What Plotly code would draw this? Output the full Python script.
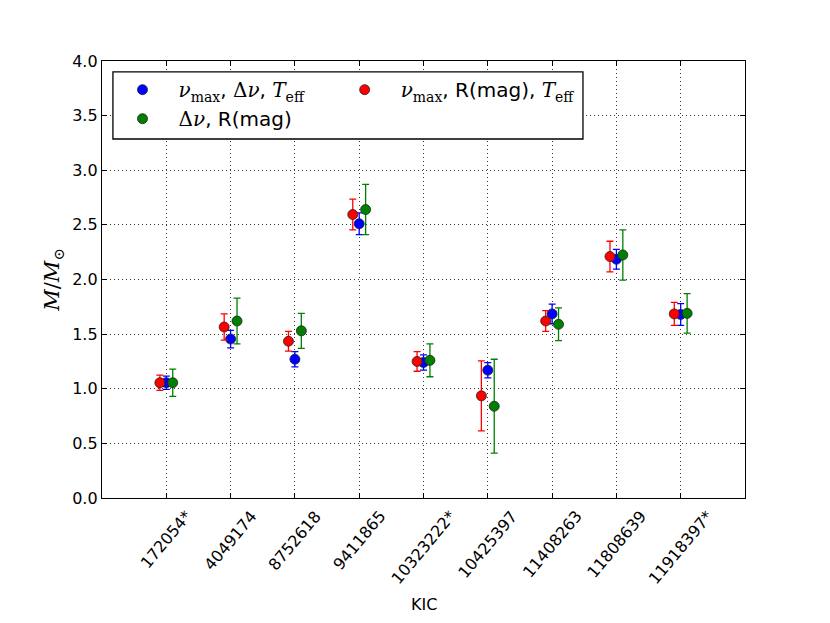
import plotly.graph_objects as go

kic = ["172054*", "4049174", "8752618", "9411865", "10323222*",
       "10425397", "11408263", "11808639", "11918397*"]

# nu_max, dnu, Teff
mass_blue = [1.055, 1.455, 1.27, 2.51, 1.24, 1.17, 1.685, 2.185, 1.68]
err_blue = [0.06, 0.08, 0.07, 0.10, 0.07, 0.07, 0.09, 0.09, 0.10]
# dnu, R(mag)
mass_green = [1.055, 1.62, 1.53, 2.64, 1.26, 0.84, 1.59, 2.225, 1.69]
err_green = [0.125, 0.21, 0.16, 0.23, 0.15, 0.43, 0.15, 0.23, 0.18]
# nu_max, R(mag), Teff
mass_red = [1.055, 1.565, 1.435, 2.595, 1.25, 0.935, 1.62, 2.21, 1.685]
err_red = [0.07, 0.12, 0.09, 0.14, 0.09, 0.32, 0.095, 0.14, 0.105]

pos = list(range(1, len(kic) + 1))

MATH = "font-family:'DejaVu Serif'"
nu_max = f"<span style=\"{MATH}\"><i>ν</i><sub>max</sub></span>"
dnu = f"<span style=\"{MATH}\">Δ<i>ν</i></span>"
teff = f"<span style=\"{MATH}\"><i>T</i><sub>eff</sub></span>"

series = [
    # name, values, errors, colour, x offset, legend, rank
    (f"{nu_max}, {dnu}, {teff}", mass_blue, err_blue, "#0000ff", 0.0, "legend", 1),
    (f"{dnu}, R(mag)", mass_green, err_green, "#008000", 0.1, "legend", 2),
    (f"{nu_max}, R(mag), {teff}", mass_red, err_red, "#ff0000", -0.1, "legend2", 1),
]

fig = go.Figure()
for name, vals, errs, col, off, leg, rank in series:
    fig.add_trace(go.Scatter(
        x=[p + off for p in pos], y=vals, mode="markers", name=name,
        legend=leg, legendrank=rank,
        marker=dict(color=col, size=10, line=dict(color="#222222", width=0.8)),
        error_y=dict(type="data", array=errs, color=col, thickness=1.3, width=3.5),
    ))

# rotated KIC labels, centred on each category like the original
for p, lab in zip(pos, kic):
    fig.add_annotation(x=p, y=-0.015, xref="x", yref="paper", text=lab,
                       textangle=-50, showarrow=False, xanchor="center",
                       yanchor="top", font=dict(size=16, color="black"))

fig.add_annotation(x=0.5, y=-0.243, xref="paper", yref="paper", text="KIC",
                   showarrow=False, yanchor="middle", font=dict(size=16))

# frame around the two-column legend
fig.add_shape(type="rect", xref="paper", yref="paper", x0=0.017, x1=0.748,
              y0=0.8215, y1=0.975, fillcolor="white", layer="above",
              line=dict(color="black", width=1.3))

axis_common = dict(showline=True, linecolor="black", linewidth=1.3, mirror="ticks",
                   ticks="inside", ticklen=5, tickcolor="black",
                   showgrid=True, gridcolor="#333333", griddash="1px,3px", gridwidth=1,
                   zeroline=False)

fig.update_xaxes(range=[0, 10], tickvals=pos, showticklabels=False, **axis_common)
fig.update_yaxes(range=[0, 4.0], dtick=0.5, tickformat=".1f", **axis_common)

leg_common = dict(yanchor="top", xanchor="left", bgcolor="rgba(0,0,0,0)", borderwidth=0,
                  itemwidth=62, font=dict(size=20), tracegroupgap=0)

# page body adds an 8px margin, so the figure is 8px smaller than the window
fig.update_layout(
    width=822, height=615,
    margin=dict(l=94, r=85, t=53, b=125),
    paper_bgcolor="white", plot_bgcolor="white",
    font=dict(family="DejaVu Sans", size=16, color="black"),
    showlegend=True,
    legend=dict(x=0.007, y=0.979, **leg_common),
    legend2=dict(x=0.3525, y=0.979, **leg_common),
    yaxis_title=dict(text="<span style=\"font-family:'DejaVu Serif'\"><i>M</i>/<i>M</i><sub>⊙</sub></span>",
                     font=dict(size=21), standoff=6),
)

fig.write_html("out.html")
